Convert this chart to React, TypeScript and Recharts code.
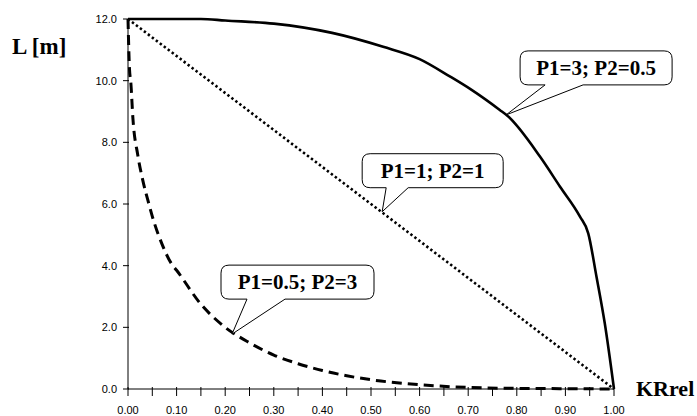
import React from "react";
import { LineChart, Line, XAxis, YAxis, ReferenceDot } from "recharts";

// Categories / tick labels
const xTicks = [0, 0.05, 0.1, 0.15, 0.2, 0.25, 0.3, 0.35, 0.4, 0.45, 0.5, 0.55, 0.6, 0.65, 0.7, 0.75, 0.8, 0.85, 0.9, 0.95, 1.0];
const yTicks = [0, 2, 4, 6, 8, 10, 12];

// Series: P1=3; P2=0.5 (solid)
const solidX = [0, 0.1, 0.15, 0.2, 0.3, 0.42, 0.525, 0.6, 0.663, 0.707, 0.765, 0.78, 0.848, 0.889, 0.93, 0.947, 0.964, 0.981, 1.0];
const solidY = [12, 12, 12, 11.95, 11.85, 11.55, 11.1, 10.7, 10.13, 9.7, 9.05, 8.87, 7.53, 6.56, 5.59, 5.05, 3.64, 2.13, 0];

// Series: P1=1; P2=1 (dotted)
const dottedX = [0, 1.0];
const dottedY = [12, 0];

// Series: P1=0.5; P2=3 (dashed)
const dashedX = [0, 0.003, 0.006, 0.01, 0.02, 0.03, 0.043, 0.05, 0.07, 0.09, 0.1, 0.15, 0.2, 0.25, 0.3, 0.35, 0.4, 0.45, 0.5, 0.6, 0.7, 0.8, 0.9, 1.0];
const dashedY = [12, 10.4, 9.9, 8.8, 7.6, 6.8, 6.0, 5.6, 4.7, 4.05, 3.85, 2.75, 2.0, 1.5, 1.1, 0.82, 0.6, 0.43, 0.3, 0.14, 0.05, 0.02, 0.01, 0];

// Callouts
const calloutLabels = ["P1=3; P2=0.5", "P1=1; P2=1", "P1=0.5; P2=3"];
const calloutX = [0.778, 0.523, 0.214];
const calloutY = [8.89, 5.75, 1.78];

const solidData = solidX.map((x, i) => ({ x, y: solidY[i] }));
const dottedData = dottedX.map((x, i) => ({ x, y: dottedY[i] }));
const dashedData = dashedX.map((x, i) => ({ x, y: dashedY[i] }));

// bubble geometry relative to the tip: [left, right, top, bottom, base1, base2]
const bubbleGeom = [
  [14, 166, -64, -30, 39, 77],
  [-20, 121, -58, -24, 4, 26],
  [-11, 142, -69, -35, 15, 53],
];

const serif = "'Liberation Serif', 'DejaVu Serif', serif";
const sans = "'Liberation Sans', Arial, sans-serif";

function makeBubble(idx: number) {
  return (props: any) => {
    const { cx, cy } = props;
    if (cx == null || cy == null) return null;
    const [l0, r0, t0, b0, p1, p2] = bubbleGeom[idx];
    const l = cx + l0, r = cx + r0, t = cy + t0, b = cy + b0;
    const b1 = cx + p1, b2 = cx + p2;
    const rr = 8;
    const d = `M ${l + rr} ${t} H ${r - rr} Q ${r} ${t} ${r} ${t + rr} V ${b - rr} Q ${r} ${b} ${r - rr} ${b} H ${b2} L ${cx} ${cy} L ${b1} ${b} H ${l + rr} Q ${l} ${b} ${l} ${b - rr} V ${t + rr} Q ${l} ${t} ${l + rr} ${t} Z`;
    return (
      <g>
        <path d={d} fill="#fff" stroke="#000" strokeWidth={1} />
        <text x={(l + r) / 2} y={(t + b) / 2 + 7} textAnchor="middle" fontFamily={serif} fontWeight="bold" fontSize={21} fill="#000">
          {calloutLabels[idx]}
        </text>
      </g>
    );
  };
}

const XTick = (props: any) => {
  const { x, y, payload, index } = props;
  return (
    <g>
      <line x1={x} x2={x} y1={y - 4} y2={y + 5} stroke="#000" strokeWidth={1} />
      {index % 2 === 0 && (
        <text x={x} y={y + 23} textAnchor="middle" fontFamily={sans} fontSize={11} fill="#000">
          {Number(payload.value).toFixed(2)}
        </text>
      )}
    </g>
  );
};

const YTick = (props: any) => {
  const { x, y, payload } = props;
  return (
    <g>
      <line x1={x - 3} x2={x + 3} y1={y} y2={y} stroke="#000" strokeWidth={1} />
      <text x={x - 9} y={y + 4} textAnchor="end" fontFamily={sans} fontSize={11} fill="#000">
        {Number(payload.value).toFixed(1)}
      </text>
    </g>
  );
};

export default function App() {
  return (
    <div style={{ position: "absolute", left: 0, top: 0, width: 697, height: 416, background: "#fff" }}>
      <LineChart width={697} height={416} margin={{ top: 19, right: 83, bottom: 0, left: 68 }}>
        <XAxis
          type="number"
          dataKey="x"
          domain={[0, 1]}
          ticks={xTicks}
          interval={0}
          tickSize={0}
          tickLine={false}
          height={27}
          axisLine={{ stroke: "#000", strokeWidth: 1 }}
          tick={XTick}
        />
        <YAxis
          type="number"
          dataKey="y"
          domain={[0, 12]}
          ticks={yTicks}
          interval={0}
          tickSize={0}
          tickLine={false}
          width={60}
          axisLine={{ stroke: "#000", strokeWidth: 1 }}
          tick={YTick}
        />
        <Line data={dottedData} dataKey="y" type="linear" stroke="#000" strokeWidth={2.6} strokeDasharray="2.4 2.6" dot={false} isAnimationActive={false} />
        <Line data={dashedData} dataKey="y" type="monotone" stroke="#000" strokeWidth={3} strokeDasharray="10 6" dot={false} isAnimationActive={false} />
        <Line data={solidData} dataKey="y" type="monotone" stroke="#000" strokeWidth={2.6} dot={false} isAnimationActive={false} />
        {calloutLabels.map((lab, i) => (
          <ReferenceDot key={lab} x={calloutX[i]} y={calloutY[i]} r={0} shape={makeBubble(i)} ifOverflow="visible" />
        ))}
      </LineChart>
      <div style={{ position: "absolute", left: 12, top: 33, fontFamily: serif, fontWeight: "bold", fontSize: 23, lineHeight: "28px", color: "#000" }}>
        L [m]
      </div>
      <div style={{ position: "absolute", left: 636, top: 376, fontFamily: serif, fontWeight: "bold", fontSize: 22, lineHeight: "26px", color: "#000" }}>
        KRrel
      </div>
    </div>
  );
}
